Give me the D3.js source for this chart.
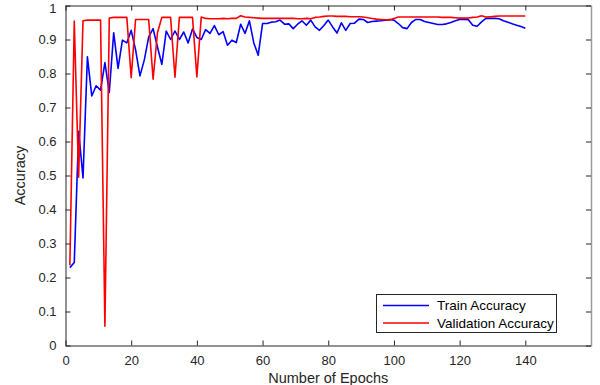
<!DOCTYPE html>
<html>
<head>
<meta charset="utf-8">
<script src="https://cdn.jsdelivr.net/npm/d3@7/dist/d3.min.js"></script>
<style>
  html, body { margin: 0; padding: 0; background: #fff; }
  svg { display: block; font-family: "Liberation Sans", Arial, Helvetica, sans-serif; }
</style>
</head>
<body>
<svg id="chart" width="600" height="385"></svg>
<script>
// ---------- data ----------
const epochs = [
  1.33, 2.67, 4, 5.33, 6.67, 8, 9.33, 10.67, 12, 13.33,
  14.67, 16, 17.33, 18.67, 20, 21.33, 22.67, 24, 25.33, 26.67,
  28, 29.33, 30.67, 32, 33.33, 34.67, 36, 37.33, 38.67, 40,
  41.33, 42.67, 44, 45.33, 46.67, 48, 49.33, 50.67, 52, 53.33,
  54.67, 56, 57.33, 58.67, 60, 61.33, 62.67, 64, 65.33, 66.67,
  68, 69.33, 70.67, 72, 73.33, 74.67, 76, 77.33, 78.67, 80,
  81.33, 82.67, 84, 85.33, 86.67, 88, 89.33, 90.67, 92, 93.33,
  94.67, 96, 97.33, 98.67, 100, 101.33, 102.67, 104, 105.33, 106.67,
  108, 109.33, 110.67, 112, 113.33, 114.67, 116, 117.33, 118.67, 120,
  121.33, 122.67, 124, 125.33, 126.67, 128, 129.33, 130.67, 132, 133.33,
  134.67, 136, 137.33, 138.67, 140
];
const trainAcc = [
  0.229, 0.244, 0.630, 0.493, 0.849, 0.734, 0.764, 0.751, 0.832, 0.744,
  0.920, 0.815, 0.898, 0.890, 0.927, 0.870, 0.793, 0.840, 0.908, 0.932,
  0.878, 0.827, 0.925, 0.900, 0.925, 0.900, 0.922, 0.890, 0.931, 0.906,
  0.900, 0.929, 0.918, 0.941, 0.914, 0.923, 0.883, 0.898, 0.891, 0.945,
  0.918, 0.955, 0.890, 0.854, 0.947, 0.947, 0.951, 0.952, 0.957, 0.945,
  0.946, 0.932, 0.945, 0.955, 0.942, 0.957, 0.937, 0.927, 0.941, 0.957,
  0.937, 0.919, 0.949, 0.927, 0.947, 0.948, 0.960, 0.959, 0.950, 0.953,
  0.954, 0.955, 0.957, 0.959, 0.957, 0.947, 0.935, 0.932, 0.950, 0.959,
  0.959, 0.953, 0.950, 0.947, 0.944, 0.944, 0.946, 0.950, 0.955, 0.959,
  0.959, 0.958, 0.942, 0.939, 0.952, 0.962, 0.962, 0.962, 0.961, 0.955,
  0.951, 0.946, 0.942, 0.938, 0.933
];
const valAcc = [
  0.236, 0.954, 0.495, 0.955, 0.957, 0.957, 0.957, 0.957, 0.057, 0.963,
  0.965, 0.965, 0.965, 0.965, 0.788, 0.959, 0.959, 0.959, 0.959, 0.783,
  0.920, 0.965, 0.965, 0.965, 0.789, 0.965, 0.965, 0.965, 0.965, 0.790,
  0.966, 0.962, 0.961, 0.961, 0.961, 0.962, 0.961, 0.962, 0.962, 0.970,
  0.966, 0.965, 0.964, 0.963, 0.962, 0.962, 0.962, 0.962, 0.962, 0.962,
  0.962, 0.962, 0.961, 0.961, 0.962, 0.961, 0.965, 0.966, 0.968, 0.969,
  0.969, 0.968, 0.968, 0.968, 0.967, 0.967, 0.967, 0.966, 0.964, 0.962,
  0.960, 0.959, 0.958, 0.957, 0.962, 0.966, 0.966, 0.966, 0.966, 0.966,
  0.966, 0.966, 0.966, 0.966, 0.966, 0.965, 0.965, 0.965, 0.964, 0.963,
  0.963, 0.963, 0.965, 0.966, 0.970, 0.966, 0.967, 0.968, 0.969, 0.969,
  0.969, 0.969, 0.969, 0.969, 0.969
];
const xTicks = [0, 20, 40, 60, 80, 100, 120, 140];
const yTicks = [0, 0.1, 0.2, 0.3, 0.4, 0.5, 0.6, 0.7, 0.8, 0.9, 1];
const yTickLabels = ["0", "0.1", "0.2", "0.3", "0.4", "0.5", "0.6", "0.7", "0.8", "0.9", "1"];
const seriesNames = ["Train Accuracy", "Validation Accuracy"];
const seriesColors = ["#0000ff", "#ff0000"];
const xLabel = "Number of Epochs";
const yLabel = "Accuracy";

// ---------- layout ----------
const L = 65.5, R = 591, T = 5.5, B = 345.5;
const svg = d3.select("#chart");
const x = d3.scaleLinear().domain([0, 160]).range([L, R]);
const y = d3.scaleLinear().domain([0, 1]).range([B, T]);
const axisColor = "#262626";
const tickLen = 5;

// data lines
const line = d3.line().x((d, i) => x(epochs[i])).y(d => y(d));
const series = [trainAcc, valAcc];
series.forEach((s, si) => {
  svg.append("path")
    .datum(s)
    .attr("d", line)
    .attr("fill", "none")
    .attr("stroke", seriesColors[si])
    .attr("stroke-width", 1.6)
    .attr("stroke-linejoin", "round");
});

// axes (bottom, left) with inward ticks
const xAxis = d3.axisBottom(x).tickValues(xTicks).tickSizeInner(-tickLen).tickSizeOuter(0).tickPadding(10).tickFormat(d3.format("d"));
const gx = svg.append("g").attr("transform", `translate(0,${B})`).call(xAxis);
const yAxis = d3.axisLeft(y).tickValues(yTicks).tickSizeInner(-tickLen).tickSizeOuter(0).tickPadding(9)
  .tickFormat((d, i) => yTickLabels[i]);
const gy = svg.append("g").attr("transform", `translate(${L},0)`).call(yAxis);
// top and right ticks
const xTop = d3.axisTop(x).tickValues(xTicks).tickSizeInner(-tickLen).tickSizeOuter(0).tickFormat("");
const gxt = svg.append("g").attr("transform", `translate(0,${T})`).call(xTop);
const yRight = d3.axisRight(y).tickValues(yTicks).tickSizeInner(-tickLen).tickSizeOuter(0).tickFormat("");
const gyr = svg.append("g").attr("transform", `translate(${R},0)`).call(yRight);

[gx, gy, gxt, gyr].forEach(g => {
  g.select(".domain").attr("stroke", axisColor).attr("stroke-width", 1);
  g.selectAll(".tick line").attr("stroke", axisColor).attr("stroke-width", 1);
  g.selectAll(".tick text").attr("fill", axisColor).style("font-size", "13px")
    .style("font-family", '"Liberation Sans", Arial, sans-serif');
});
gyr.select(".domain").attr("stroke", "#9a9a9a").attr("stroke-width", 1.5);
// keep the top "1" label inside the picture
gy.selectAll(".tick text").filter(d => d === 1).attr("dy", "0.5em");

// axis labels
svg.append("text")
  .attr("x", (L + R) / 2).attr("y", 383)
  .attr("text-anchor", "middle")
  .attr("fill", axisColor)
  .style("font-size", "14.5px")
  .text(xLabel);
svg.append("text")
  .attr("transform", `translate(25,${(T + B) / 2}) rotate(-90)`)
  .attr("text-anchor", "middle")
  .attr("fill", axisColor)
  .style("font-size", "14.5px")
  .text(yLabel);

// legend
const lg = svg.append("g");
lg.append("rect")
  .attr("x", 376.5).attr("y", 294.5).attr("width", 180).attr("height", 38)
  .attr("fill", "#fff").attr("stroke", axisColor).attr("stroke-width", 1);
seriesNames.forEach((name, i) => {
  const cy = 305.5 + i * 17.5;
  lg.append("line")
    .attr("x1", 383).attr("x2", 429).attr("y1", cy).attr("y2", cy)
    .attr("stroke", seriesColors[i]).attr("stroke-width", 1.6);
  lg.append("text")
    .attr("x", 437).attr("y", cy).attr("dy", "0.35em")
    .attr("fill", "#000")
    .style("font-size", "13.5px")
    .text(name);
});
</script>
</body>
</html>
